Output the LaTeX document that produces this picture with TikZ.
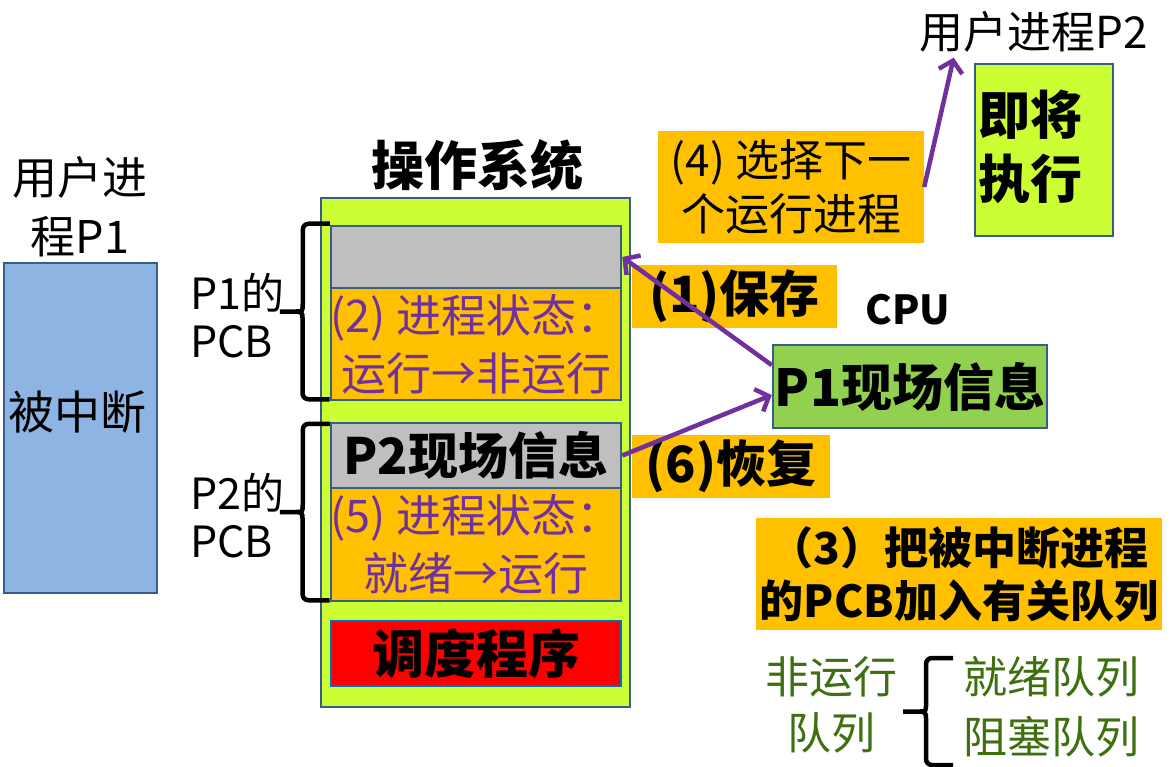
\documentclass[tikz,border=0pt]{standalone}
\usepackage{fontspec}
\setmainfont{Noto Sans CJK SC}
\usetikzlibrary{arrows.meta,positioning,calc}

\definecolor{blueF}{HTML}{8EB4E3}
\definecolor{blueD}{HTML}{385D8A}
\definecolor{limeF}{HTML}{CCFF33}
\definecolor{grayF}{HTML}{BFBFBF}
\definecolor{orngF}{HTML}{FFC000}
\definecolor{purp}{HTML}{7030A0}
\definecolor{grnF}{HTML}{92D050}
\definecolor{schedD}{HTML}{0070C0}
\definecolor{qgrn}{HTML}{3F6F10}

\begin{document}
\begin{tikzpicture}[
  x=1pt, y=-1pt,
  >={Straight Barb[length=11pt,width=24pt]},
  frame/.style={rectangle, draw=blueD, line width=2.5pt, inner sep=0pt, align=center},
  note/.style={rectangle, fill=orngF, inner sep=0pt, align=center},
  plain/.style={inner sep=0pt, align=center},
  reg/.style={font=\fontsize{43}{48}\selectfont},
  bold/.style={font=\fontsize{50}{56}\selectfont\bfseries},
  state/.style={text=purp, font=\fontsize{45}{58}\selectfont},
  queue/.style={text=qgrn, font=\fontsize{44}{56}\selectfont},
  flow/.style={->, draw=purp, line width=4.5pt},
  bracepen/.style={line width=4.5pt, rounded corners=6pt}
]
\newcommand{\hookbrace}[2]{% top end, bottom end
  \draw[bracepen] let \p1=(#1), \p2=(#2), \n1={0.5*(\y1+\y2)} in
    (\p1) -- (\x1-27pt,\y1) -- (\x1-27pt,\n1+14pt)
      .. controls (\x1-27pt,\n1) .. (\x1-40pt,\n1) -- (\x1-50pt,\n1)
    (\p2) -- (\x2-27pt,\y2) -- (\x2-27pt,\n1-14pt)
      .. controls (\x2-27pt,\n1) .. (\x2-40pt,\n1);}
\useasboundingbox (0,0) rectangle (1172,767);

% ---------- User process P1 ----------
\node[plain, font=\fontsize{45}{59}\selectfont] (P1lab) at (80,207) {用户进\\程P1};
\node[frame, fill=blueF, minimum width=153pt, minimum height=330pt] (P1) at (80.5,428) {};
\node[plain, font=\fontsize{46}{50}\selectfont] (intr) at (78,412) {被中断};

% ---------- PCB labels ----------
\node[plain, reg, align=left, anchor=west] (pcbAlab) at (190,316) {P1的\\PCB};
\node[plain, reg, align=left, anchor=west] (pcbBlab) at (190,516) {P2的\\PCB};

% ---------- Operating system ----------
\node[plain, font=\fontsize{53}{56}\selectfont\bfseries] (OSlab) at (477,165) {操作系统};
\node[frame, fill=limeF, minimum width=309pt, minimum height=509pt] (OS) at (475.5,452.5) {};
\node[frame, fill=grayF, minimum width=290pt, minimum height=62pt] (pcbA) at (476,257) {};
\node[frame, fill=orngF, minimum width=290pt, minimum height=112pt, state] (stA) at (476,344) {(2) 进程状态：\\运行→非运行};
\node[frame, fill=grayF, minimum width=290pt, minimum height=65pt, bold] (pcbB) at (476,455.5) {P2现场信息};
\node[frame, fill=orngF, minimum width=290pt, minimum height=113pt, state] (stB) at (476,544.5) {(5) 进程状态：\\就绪→运行};
\node[frame, draw=schedD, fill=red, minimum width=290pt, minimum height=65pt, font=\fontsize{52}{56}\selectfont\bfseries] (sched) at (476,653.5) {调度程序};

\hookbrace{$(pcbA.north west)+(0,-1)$}{$(stA.south west)+(0,-2)$}
\hookbrace{$(pcbB.north west)+(0,2)$}{$(stB.south west)+(0,-2)$}

% ---------- CPU ----------
\node[note, minimum width=205pt, minimum height=63pt, bold] (save) at (734.5,296.5) {(1)保存};
\node[plain, font=\fontsize{40}{48}\selectfont\bfseries] (CPUlab) at (908,310) {CPU};
\node[frame, fill=grnF, minimum width=274pt, minimum height=83pt, font=\fontsize{51}{56}\selectfont\bfseries] (ctx) at (910,386.5) {P1现场信息};
\node[note, minimum width=198pt, minimum height=63pt, bold] (restore) at (731,466.5) {(6)恢复};

% ---------- Next process ----------
\node[note, minimum width=266pt, minimum height=112pt, font=\fontsize{44}{54}\selectfont] (select) at (791,187) {(4) 选择下一\\个运行进程};
\node[plain, font=\fontsize{44}{48}\selectfont] (P2lab) at (1034,32) {用户进程P2};
\node[frame, fill=limeF, minimum width=138pt, minimum height=172pt] (next) at (1044,150) {};
\node[plain, font=\fontsize{52}{64}\selectfont\bfseries] (nextlab) at (1030,147) {即将\\执行};

% ---------- Queues ----------
\node[note, minimum width=406pt, minimum height=112pt, font=\fontsize{44}{53}\selectfont\bfseries] (enq) at (959,574) {（3）把被中断进程\\的PCB加入有关队列};
\node[plain, queue] (nonrun) at (831,705) {非运行\\队列};
\node[plain, queue] (ready) at (1051,677) {就绪队列};
\node[plain, queue] (blocked) at (1051,737) {阻塞队列};
\coordinate (qtop) at (953,658);
\coordinate (qbot) at (953,765);
\hookbrace{qtop}{qbot}

% ---------- Switch steps ----------
\draw[flow] ($(ctx.north west)!0.25!(ctx.south west)$) -- (pcbA.east);
\draw[flow] (pcbB.east) -- ($(ctx.north west)!0.6!(ctx.south west)$);
\draw[flow] (select.east) -- ($(P2lab.south west)+(34,5)$);

\end{tikzpicture}
\end{document}
